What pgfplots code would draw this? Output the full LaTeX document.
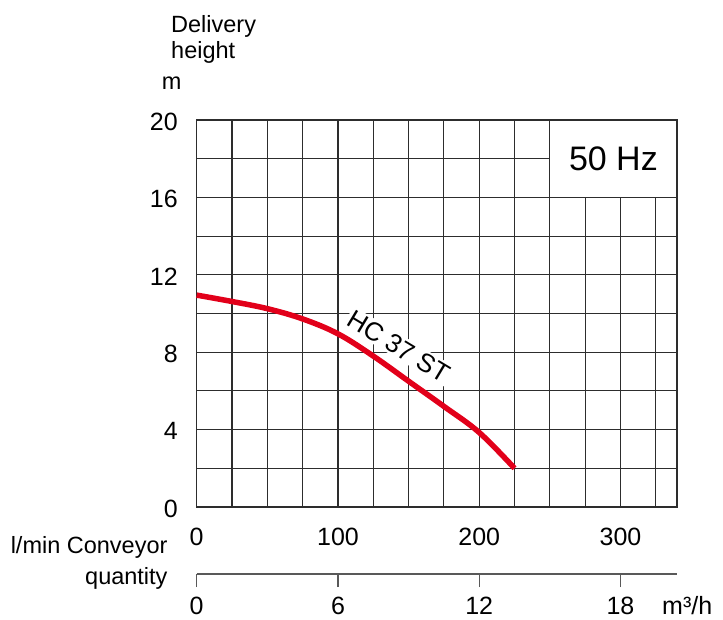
\documentclass[border=0pt]{standalone}
\usepackage{pgfplots}
\pgfplotsset{compat=1.18}
\usepackage{fontspec}
\setmainfont{Liberation Sans}
\definecolor{curvered}{RGB}{226,0,26}
\definecolor{gridc}{RGB}{45,45,45}
\begin{document}
\begin{tikzpicture}
\path[use as bounding box] (-196.7pt,-112pt) rectangle (526.3pt,507pt);
\begin{axis}[
 at={(0,0)}, anchor=south west,
 scale only axis, width=480.3pt, height=387pt,
 xmin=0, xmax=340, ymin=0, ymax=20,
 xtick={0,100,200,300}, minor xtick={25,50,75,125,150,175,225,250,275,325},
 ytick={0,4,8,12,16,20}, minor ytick={2,6,10,14,18},
 grid=both,
 major grid style={draw=gridc, line width=1.15pt},
 minor grid style={draw=gridc, line width=1.15pt},
 axis line style={draw=gridc, line width=1.15pt},
 major tick length=0pt, minor tick length=0pt,
 tick style={draw=none},
 tick label style={font=\fontsize{25}{28}\selectfont, inner sep=0pt},
 xticklabel style={anchor=base, yshift=-38pt},
 yticklabel style={anchor=east, xshift=-18.7pt, yshift=-1.5pt},
 /pgf/number format/assume math mode=true,
 clip=false,
]
\draw[gridc, line width=1.15pt, fill=white] (axis cs:250,16) rectangle (axis cs:340,20);
\node[font=\fontsize{34}{40}\selectfont] at (axis cs:295,18) {50 Hz};
\node[rotate=-31, fill=white, inner sep=2pt, font=\fontsize{26}{30}\selectfont] at (axis cs:143,8.3) {HC 37 ST};
\addplot[curvered, line width=5.5pt, smooth, tension=0.6] coordinates {
 (0,10.95) (25,10.62) (50,10.25) (75,9.72) (100,8.95) (125,7.8)
 (150,6.5) (175,5.2) (200,3.85) (225,2.0)
};
\end{axis}
\begin{axis}[
 at={(0,-67pt)}, anchor=south west,
 scale only axis, width=480.3pt, height=10pt,
 xmin=0, xmax=20.4, ymin=0, ymax=1,
 axis x line*=bottom, axis y line=none, ytick=\empty,
 xtick={0,6,12,18},
 tick align=outside, major tick length=13pt,
 tick style={draw=black!65, line width=1.3pt},
 axis line style={draw=black!65, line width=1.3pt},
 tick label style={font=\fontsize{25}{28}\selectfont, inner sep=0pt},
 xticklabel style={anchor=base, yshift=-27pt},
 /pgf/number format/assume math mode=true,
 clip=false,
]
\end{axis}
\begin{scope}[every node/.style={inner sep=0pt, font=\fontsize{23.5}{26}\selectfont}]
\node[anchor=base west] at (-25.7pt,474.7pt) {Delivery};
\node[anchor=base west] at (-25.7pt,448.7pt) {height};
\node[anchor=base west] at (-35pt,417pt) {m};
\node[anchor=base east] at (-29pt,-46pt) {l/min Conveyor};
\node[anchor=base east] at (-29pt,-77pt) {quantity};
\node[anchor=base west, font=\fontsize{25}{28}\selectfont] at (465.3pt,-107pt) {m³/h};
\end{scope}
\end{tikzpicture}
\end{document}
